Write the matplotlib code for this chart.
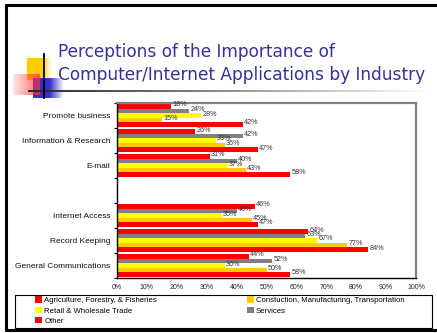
import numpy as np
import matplotlib
matplotlib.use("Agg")
import matplotlib.pyplot as plt
from matplotlib.patches import Rectangle, Patch
from matplotlib.colors import to_rgb

# ---- data ----
categories = ["Promote business", "Information & Research", "E-mail", "",
              "Internet Access", "Record Keeping", "General Communications"]
series_names = ["Agriculture, Forestry, & Fisheries",
                "Constuction, Manufacturing, Transportation",
                "Retail & Wholesale Trade", "Services", "Other"]
agriculture = [42, 47, 58, np.nan, 47, 84, 58]
construction = [15, 36, 43, np.nan, 45, 77, 50]
retail = [28, 33, 37, np.nan, 35, 67, 36]
services = [24, 42, 40, np.nan, 40, 63, 52]
other = [18, 26, 31, np.nan, 46, 64, 44]
series_colors = ["#FF0000", "#FFCC00", "#FFFF00", "#808080", "#FF0000"]
x_ticks = [0, 10, 20, 30, 40, 50, 60, 70, 80, 90, 100]
x_tick_labels = [f"{t}%" for t in x_ticks]
title_lines = ["Perceptions of the Importance of",
               "Computer/Internet Applications by Industry"]

W, H = 437, 333
DPI = 100
fig = plt.figure(figsize=(W / DPI, H / DPI), dpi=DPI)
fig.patch.set_facecolor("white")

# ---- slide decoration layer (pixel coordinates) ----
deco = fig.add_axes([0, 0, 1, 1], zorder=0)
deco.set_xlim(0, W)
deco.set_ylim(H, 0)
deco.axis("off")


def fade_block(ax, x0, x1, y0, y1, color, a_left, a_right, solid_frac=0.0):
    n = 64
    rgb = to_rgb(color)
    t = np.linspace(0, 1, n)
    alpha = np.where(t < solid_frac, a_left,
                     a_left + (a_right - a_left) * (t - solid_frac) / max(1e-6, 1 - solid_frac))
    img = np.zeros((2, n, 4))
    img[..., 0], img[..., 1], img[..., 2] = rgb
    img[..., 3] = alpha
    ax.imshow(img, extent=(x0, x1, y1, y0), aspect="auto", interpolation="bilinear", zorder=2)


fade_block(deco, 27, 52, 58, 80, "#FFCC00", 1.0, 0.0, solid_frac=0.6)
fade_block(deco, 33, 64, 78, 98, "#3333CC", 1.0, 0.0, solid_frac=0.55)
fade_block(deco, 13, 40, 74, 95, "#FF3333", 0.12, 0.75)
deco.plot([43.5, 43.5], [54, 98], color="black", lw=1.3, zorder=4)

# gradient rule under the title
n = 256
rule = np.ones((1, n, 4))
g = np.linspace(0.15, 1.0, n)
rule[0, :, 0] = g
rule[0, :, 1] = g
rule[0, :, 2] = g
deco.imshow(rule, extent=(28, 432, 92.5, 90.5), aspect="auto", zorder=3)

# slide border
deco.plot([6, 6], [4, 331], color="black", lw=2.2, zorder=5, solid_capstyle="butt")
deco.plot([5, W], [5, 5], color="black", lw=2.2, zorder=5, solid_capstyle="butt")
deco.plot([5, W], [330, 330], color="black", lw=2.2, zorder=5, solid_capstyle="butt")

# title, scaled to the width of the second line
renderer = fig.canvas.get_renderer()
t1 = deco.text(58, 57, title_lines[0], fontsize=14, color="#333399",
               family="DejaVu Sans", va="baseline", ha="left", zorder=6)
t2 = deco.text(58, 80, title_lines[1], fontsize=14, color="#333399",
               family="DejaVu Sans", va="baseline", ha="left", zorder=6)
wpx = t2.get_window_extent(renderer).width
fs = 14 * 369 / wpx
t1.set_fontsize(fs)
t2.set_fontsize(fs)

# ---- bar chart ----
ax = fig.add_axes([117 / W, (H - 278) / H, (416 - 117) / W, (278 - 103) / H], zorder=1)
ax.set_facecolor("none")
y = np.arange(len(categories))
bar_h = 0.18
series = [agriculture, construction, retail, services, other]
offsets = [2, 1, 0, -1, -2]
for vals, col, off in zip(series, series_colors, offsets):
    vals = np.asarray(vals, dtype=float)
    ypos = y + off * bar_h
    ax.barh(ypos, vals, height=bar_h, color=col, edgecolor="none", zorder=2)
    for yy, v in zip(ypos, vals):
        if np.isnan(v):
            continue
        ax.text(v + 0.5, yy - 0.06, f"{v:.0f}%", fontsize=5.2, va="center", ha="left",
                color="#333333", family="Liberation Sans", zorder=3)

ax.set_xlim(0, 100)
ax.set_ylim(len(categories) - 0.5, -0.5)
ax.set_xticks(x_ticks)
ax.set_xticklabels(x_tick_labels, fontsize=5, family="Liberation Sans", color="#222222")
ax.tick_params(axis="x", length=0, pad=4)
ax.set_yticks(np.arange(len(categories) + 1) - 0.5)
ax.set_yticklabels([])
ax.tick_params(axis="y", which="major", length=2.5, width=0.8, direction="out")
ax.set_yticks(y, minor=True)
ax.set_yticklabels(categories, minor=True, fontsize=6, family="Liberation Sans", color="#111111")
ax.tick_params(axis="y", which="minor", length=0, pad=5)
for s in ("left", "bottom"):
    ax.spines[s].set_color("black")
    ax.spines[s].set_linewidth(1.0)
for s in ("top", "right"):
    ax.spines[s].set_color("#808080")
    ax.spines[s].set_linewidth(1.6)

# ---- legend ----
deco.add_patch(Rectangle((15, 295), 417, 33, fill=False, edgecolor="black", lw=0.8, zorder=5))
handles = [Patch(facecolor=c, edgecolor="none", label=nm) for c, nm in zip(series_colors, series_names)]
order = [0, 2, 4, 1, 3]
fig.legend([handles[i] for i in order], [series_names[i] for i in order],
           loc="upper left", bbox_to_anchor=(35 / W, 1 - 296.5 / H), ncol=2,
           frameon=False, prop={"family": "Liberation Sans", "size": 5.6},
           handlelength=0.9, handleheight=0.9, handletextpad=0.3,
           labelspacing=0.3, columnspacing=11.5, borderpad=0, borderaxespad=0)

fig.savefig("out.png", dpi=DPI, facecolor="white")
